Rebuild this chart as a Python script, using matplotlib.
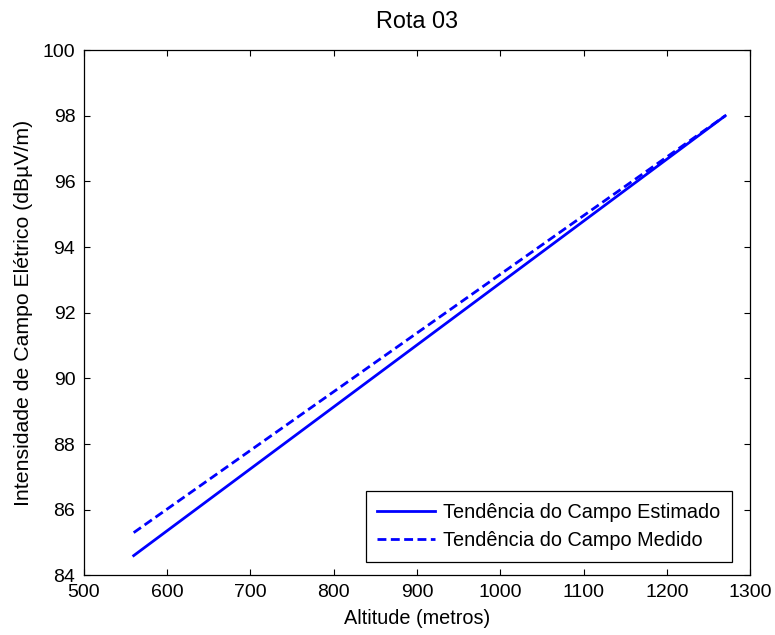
import matplotlib
matplotlib.use("Agg")
import matplotlib.pyplot as plt

plt.rcParams['font.family'] = ['Liberation Sans', 'DejaVu Sans']

# altitude (m) and field trend endpoints (dBuV/m)
alt = [560, 1270]
campo_estimado = [84.6, 98.0]
campo_medido = [85.3, 98.0]

fig = plt.figure(figsize=(7.75, 6.35), dpi=100)
ax = fig.add_axes([0.108, 0.094, 0.860, 0.827])

ax.plot(alt, campo_estimado, '-', color='blue', lw=2, label='Tendência do Campo Estimado')
ax.plot(alt, campo_medido, '--', color='blue', lw=2, dashes=(3.2, 1.6),
        label='Tendência do Campo Medido')

ax.set_xlim(500, 1300)
ax.set_ylim(84, 100)
ax.set_xticks(range(500, 1301, 100))
ax.set_yticks(range(84, 101, 2))
ax.tick_params(direction='in', top=True, right=True, labelsize=14, length=4.5, pad=6)
for s in ax.spines.values():
    s.set_linewidth(0.9)
ax.set_xlabel('Altitude (metros)', fontsize=14.3, labelpad=6)
ax.set_ylabel('Intensidade de Campo Elétrico (dBµV/m)', fontsize=15.3, labelpad=7)
ax.set_title('Rota 03', fontsize=16.8, pad=16)

leg = ax.legend(loc='lower right', bbox_to_anchor=(0.973, 0.025), borderaxespad=0,
                fontsize=14.3, fancybox=False, framealpha=1, edgecolor='black',
                handlelength=2.9, handletextpad=0.4, labelspacing=0.45,
                borderpad=0.6)
leg.get_frame().set_linewidth(0.9)

fig.savefig('out.png', dpi=100)
